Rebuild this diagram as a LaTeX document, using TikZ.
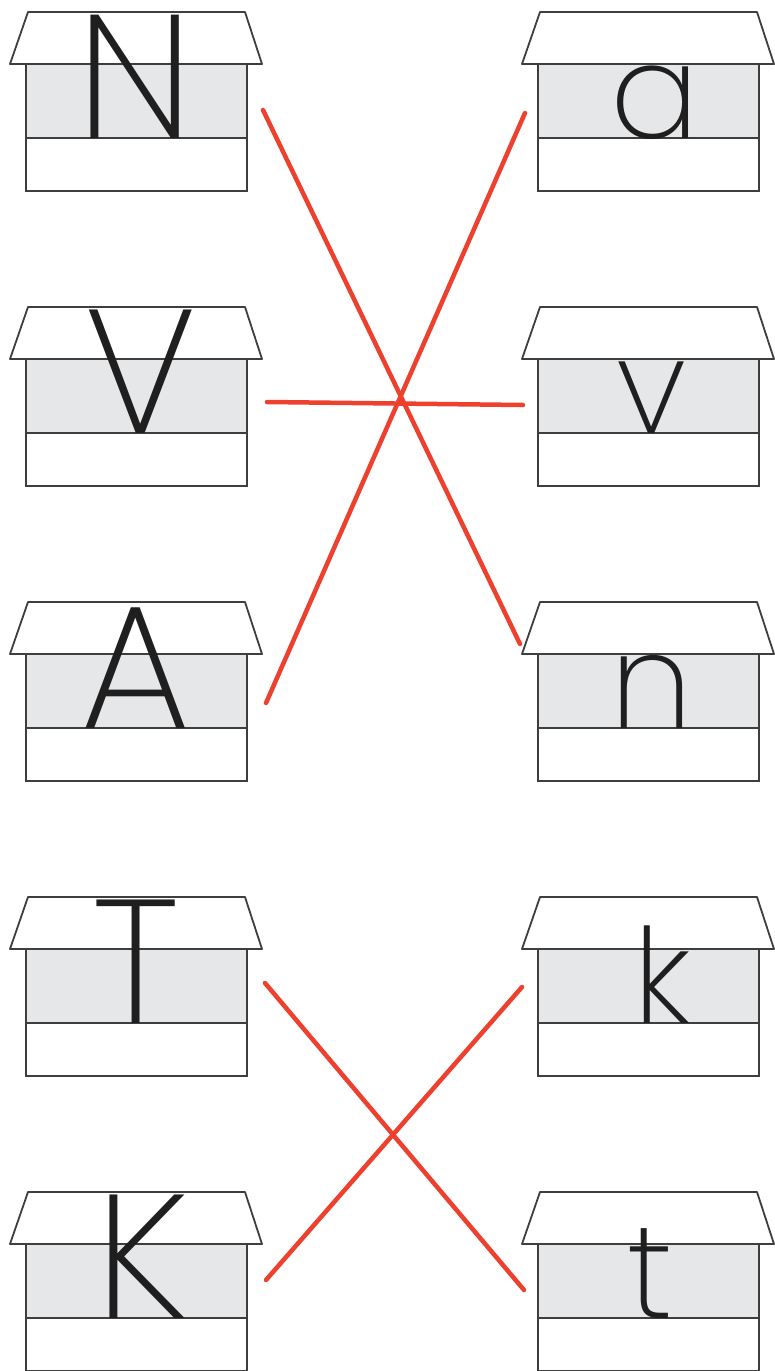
\documentclass[tikz,border=0pt]{standalone}
\usepackage{fontspec}
\usepackage{tikz}
\IfFontExistsTF{Poppins ExtraLight}
  {\newfontfamily\letterfont{Poppins ExtraLight}}
  {\IfFontExistsTF{Poppins Light}
    {\newfontfamily\letterfont{Poppins Light}}
    {\newfontfamily\letterfont{DejaVu Sans}}}
\definecolor{housegray}{RGB}{230,231,233}
\definecolor{houseline}{RGB}{62,62,62}
\definecolor{linkred}{RGB}{238,64,46}
\tikzset{
  roof/.style={draw=houseline, line width=1.8pt, fill=white, line join=round},
  wall/.style={draw=houseline, line width=1.8pt, fill=housegray},
  band/.style={draw=houseline, line width=1.8pt, fill=white},
  capletter/.style={font=\letterfont\fontsize{176}{176}\selectfont, anchor=base, inner sep=0pt, text depth=0pt, text=black!88},
  lowletter/.style={font=\letterfont\fontsize{132}{132}\selectfont, anchor=base, inner sep=0pt, text depth=0pt, text=black!88},
  link/.style={draw=linkred, line width=4.5pt, line cap=round}
}
% house: name, body left x, top y, letter x, letter style, letter
\newcommand\house[6]{%
  \draw[wall] ({#2},{#3+52}) rectangle ({#2+221},{#3+126});
  \draw[band] ({#2},{#3+126}) rectangle ({#2+221},{#3+179});
  \draw[roof] ({#2+2},{#3}) -- ({#2+219},{#3}) -- ({#2+236},{#3+52}) -- ({#2-16},{#3+52}) -- cycle;
  \node[#5] (#1) at ({#4},{#3+126}) {#6};
}

\begin{document}
\begin{tikzpicture}[x=1pt, y=-1pt]
\useasboundingbox (0,0) rectangle (775,1371);

% left column
\house{N}{26}{12}{135}{capletter}{N}
\house{V}{26}{307}{141}{capletter}{V}
\house{A}{26}{602}{136}{capletter}{A}
\house{T}{26}{897}{136}{capletter}{T}
\house{K}{26}{1192}{142}{capletter}{K}

% right column
\house{a}{538}{12}{655}{lowletter}{a}
\house{v}{538}{307}{652}{lowletter}{v}
\house{n}{538}{602}{652}{lowletter}{n}
\house{k}{538}{897}{662}{lowletter}{k}
\house{t}{538}{1192}{650}{lowletter}{t}

% ends of the links
\coordinate (N-end) at (263,110);
\coordinate (V-end) at (267,402);
\coordinate (A-end) at (266,703);
\coordinate (T-end) at (265,983);
\coordinate (K-end) at (266,1280);
\coordinate (a-end) at (525,113);
\coordinate (v-end) at (523,405);
\coordinate (n-end) at (520,644);
\coordinate (k-end) at (522,987);
\coordinate (t-end) at (524,1290);

\draw[link] (N-end) -- (n-end);
\draw[link] (V-end) -- (v-end);
\draw[link] (A-end) -- (a-end);
\draw[link] (T-end) -- (t-end);
\draw[link] (K-end) -- (k-end);
\end{tikzpicture}
\end{document}
